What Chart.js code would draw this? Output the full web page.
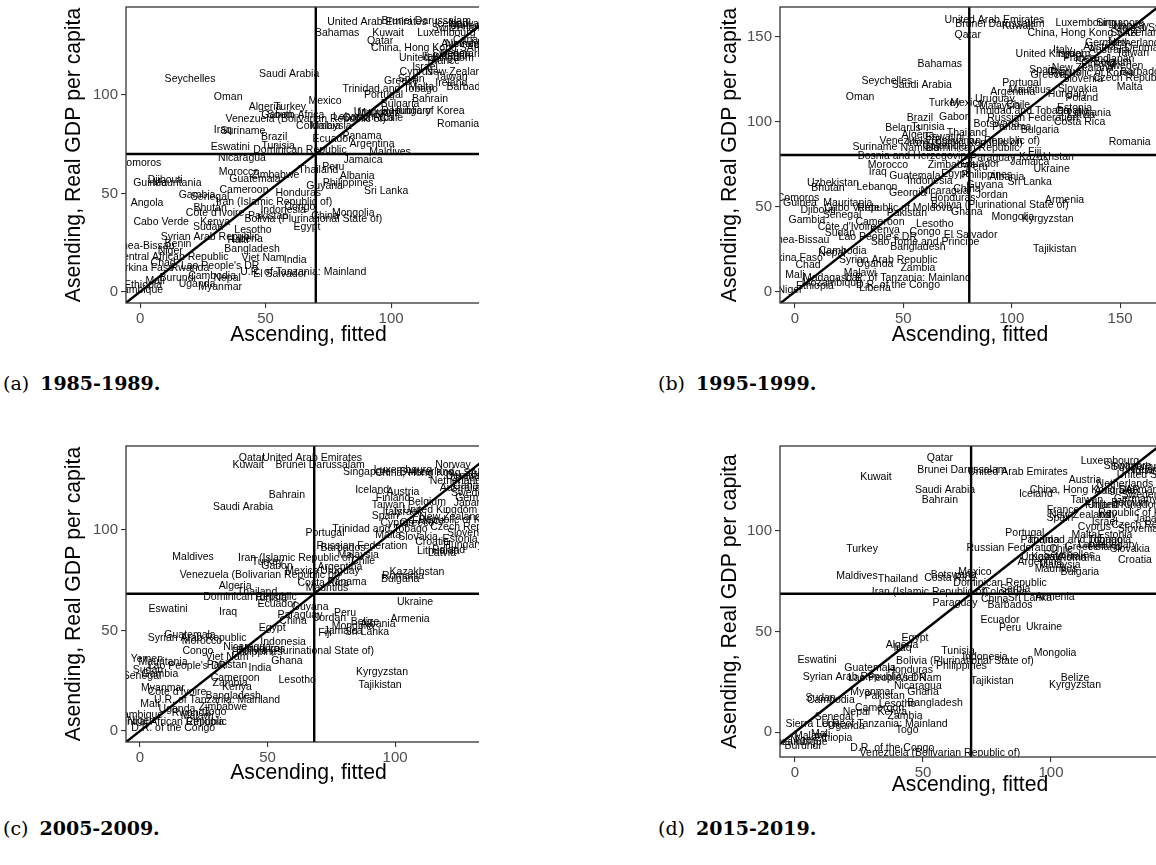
<!DOCTYPE html>
<html>
<head>
<meta charset="utf-8">
<script src="https://cdn.jsdelivr.net/npm/chart.js@4.4.1/dist/chart.umd.min.js"></script>
<style>
body { margin: 0; background: #fff; width: 1156px; height: 865px; overflow: hidden; position: relative; }
.panel { position: absolute; overflow: hidden; }
.panel canvas { position: absolute; left: 0; top: 0; }
.cap { position: absolute; font-family: "DejaVu Serif", serif; font-size: 19px; color: #000; white-space: nowrap; }
.cap b { margin-left: 11px; }
</style>
</head>
<body>
<div class="panel" style="left:61px;top:0px;width:418px;height:348px"><canvas id="ca"></canvas></div>
<div class="panel" style="left:717px;top:0px;width:439px;height:348px"><canvas id="cb"></canvas></div>
<div class="panel" style="left:61px;top:439px;width:418px;height:347px"><canvas id="cc"></canvas></div>
<div class="panel" style="left:717px;top:439px;width:439px;height:359px"><canvas id="cd"></canvas></div>
<div class="cap" style="left:3px;top:372px">(a)<b>1985-1989.</b></div>
<div class="cap" style="left:658px;top:372px">(b)<b>1995-1999.</b></div>
<div class="cap" style="left:3px;top:817px">(c)<b>2005-2009.</b></div>
<div class="cap" style="left:658px;top:817px">(d)<b>2015-2019.</b></div>

<script>
// ---- data ----
const xTitle = "Ascending, fitted";
const yTitle = "Asending, Real GDP per capita";

// 1985-1989
const cutA = 70;
const ticksXA = [0, 50, 100];
const ticksYA = [0, 50, 100];
const namesA = ["Seychelles","Saudi Arabia","Oman","Algeria","Turkey","Mexico","Gabon","South Africa",
  "Venezuela (Bolivarian Republic of)","Iraq","Suriname","Brazil","Colombia","Malaysia","Eswatini","Tunisia",
  "Dominican Republic","Nicaragua","Comoros","Morocco","Guatemala","Zimbabwe","Guinea","Djibouti",
  "Mauritania","Cameroon","Gambia","Senegal","Iran (Islamic Republic of)","Angola","Bhutan","Côte d'Ivoire",
  "Indonesia","Pakistan","Bolivia (Plurinational State of)","Congo","Honduras","Guyana","Philippines","Albania",
  "Sri Lanka","Mongolia","China","Jamaica","Peru","Thailand","Ecuador","Argentina",
  "Panama","Maldives","Egypt","Cabo Verde","Sudan","Kenya","Lesotho","Syrian Arab Republic",
  "Haiti","Liberia","Benin","Guinea-Bissau","Niger","Central African Republic","Bangladesh","Viet Nam",
  "India","Lao People's DR","Chad","Burkina Faso","Rwanda","Mali","Burundi","Uganda",
  "Cambodia","Nepal","Myanmar","Ethiopia","Mozambique","U.R. of Tanzania: Mainland","El Salvador","United Arab Emirates",
  "Brunei Darussalam","Qatar","Bahamas","Kuwait","Luxembourg","China, Hong Kong SAR","United Kingdom","Israel",
  "Cyprus","New Zealand","Taiwan","Greece","Ireland","Barbados","Portugal","Trinidad and Tobago",
  "Bahrain","Bulgaria","Republic of Korea","Uruguay","Romania","Switzerland","United States","Norway",
  "Iceland","Canada","Netherlands","Australia","Denmark","Japan","Sweden","France",
  "Italy","Spain","Malta","Chile","Mauritius","Costa Rica","Hungary","Lebanon"];
const fittedA = [19.9,59.4,35.1,49.8,59.8,73.7,54.6,62,
  66,33,41,53.4,71,76,35.9,55,
  63.7,40.6,0,39.4,45.8,53.8,4,10,
  14.7,41.4,22.7,27.9,53.4,2.8,27.9,29.9,
  57,51,69,63.7,63,73.5,82.9,86.5,
  98,84.9,73.7,88.8,77,71,76.5,92.4,
  88.4,99.6,66.5,8.4,27.1,29.9,45,27.9,
  39,42.6,15.1,0,12,12.7,44.6,49,
  61.8,31.9,9.2,1.2,19.9,6,15,22.7,
  28.7,34.7,31.9,1.2,-2.8,65,55.8,94.4,
  114,95.6,78.5,98.8,122,114,118,113.5,
  110,126,124,104,124,131,97,99.6,
  115.5,103.6,112.7,93,126.7,127,136,130,
  124,132,133,128,128,126,124,121,
  116,108,112,100,95,91,108,85];
const realA = [108,110.7,99,93.9,93.9,97,89.8,89.8,
  87.8,82,81.7,78.7,84.3,84.3,73.6,74,
  72,68,65.5,61,57.4,59.4,55.3,56.9,
  55.3,51.8,49.2,48.2,45.7,45.2,42.6,40.1,
  41.6,38.6,37,43.1,50,53.8,55.3,58.9,
  51.3,40.1,38.6,67,63.5,62,77.7,75.1,
  79.2,71,33,35.5,33.1,35.2,31.5,28,
  26.4,26.9,24.4,23.4,20.8,17.8,21.8,17.3,
  16.2,13.2,14.7,12.2,12.2,5.6,7.1,4.1,
  8.1,7.1,2.5,3.6,1,10.2,9.1,137,
  137.6,127.4,131.5,131.5,131.5,124,118.8,114,
  111.7,111.7,109,107,106,104,100,103,
  98,95.4,91.9,91.4,85.3,134,135,136,
  136,128,126,126,121,120,121,117,
  119,108,104,88,91,88,92,89];

// 1995-1999
const cutB = 80.4;
const ticksXB = [0, 50, 100, 150];
const ticksYB = [0, 50, 100, 150];
const namesB = ["United Arab Emirates","Brunei Darussalam","Kuwait","Qatar","Luxembourg","China, Hong Kong SAR","United States","Singapore",
  "Norway","Switzerland","Netherlands","Austria","Australia","Germany","Denmark","Taiwan",
  "Italy","Israel","United Kingdom","France","Belgium","Finland","Japan","Sweden",
  "Iceland","Spain","Greece","New Zealand","Cyprus","Republic of Korea","Slovenia","Barbados",
  "Czech Republic","Malta","Portugal","Argentina","Mauritius","Slovakia","Hungary","Poland",
  "Uruguay","Malaysia","Mexico","Chile","Trinidad and Tobago","Estonia","Lithuania","Latvia",
  "Croatia","Costa Rica","Russian Federation","Botswana","Panama","Bulgaria","Thailand","Romania",
  "Fiji","Iran (Islamic Republic of)","Dominican Republic","Bahamas","Seychelles","Saudi Arabia","Oman","Turkey",
  "Brazil","Gabon","Belarus","Tunisia","Algeria","Eswatini","Venezuela (Bolivarian Republic of)","Suriname",
  "Namibia","Colombia","Bosnia and Herzegovina","Morocco","Iraq","Guatemala","Indonesia","Zimbabwe",
  "Egypt","Uzbekistan","Bhutan","Lebanon","Georgia","Nicaragua","Honduras","Comoros",
  "Guinea","Mauritania","Djibouti","Cabo Verde","Republic of Moldova","Bolivia (Plurinational State of)","Senegal","Pakistan",
  "Ghana","Gambia","Cameroon","Lesotho","Côte d'Ivoire","Kenya","Congo","Sudan",
  "Lao People's DR","El Salvador","Sao Tome and Principe","Guinea-Bissau","Bangladesh","Nepal","Cambodia","Syrian Arab Republic",
  "Burkina Faso","Chad","Uganda","Zambia","Mali","Madagascar","U.R. of Tanzania: Mainland","Mozambique",
  "D.R. of the Congo","Ethiopia","Liberia","Niger","Malawi","Jamaica","Kazakhstan","Paraguay",
  "Ecuador","Ukraine","Peru","Philippines","Albania","Sri Lanka","Guyana","China",
  "Jordan","Armenia","Mongolia","Kyrgyzstan","Tajikistan"];
const fittedB = [92,94.5,102.8,79.7,133.6,132.7,162,150,
  155,158,157.6,140.5,145,143.8,162,155.8,
  123.5,127,119,131.3,146.5,140,150,152,
  137,114.3,116.6,132.7,124,137.3,132.7,160.4,
  154.4,154.4,104.6,100.5,108.3,130.4,125.8,132.3,
  92.2,94.5,79.3,103,104.6,129,136,132,
  128,131.3,109.7,93,100,113,79.3,154.4,
  110.6,78.3,82,66.8,42.4,58.5,30,69,
  57.6,73.7,49.8,61.3,56.7,69,76,36.9,
  57.6,69,55.3,42.9,38.2,55.3,62.2,72.4,
  73.7,17.5,15.2,37.8,52,69,72.8,1.4,
  2.3,24.4,10.6,26.3,50.7,94.5,21.7,51.6,
  79.3,5.5,39.2,64.5,24,41.5,60,20.7,
  38.2,81,60,0,56.7,17,22,43,
  -1.4,6,36.9,56.7,0,17,52,17,
  47.5,9.2,36.9,-2.3,30,108.3,116,91.2,
  85.3,118.4,83.9,88.5,97.7,108.3,87.6,79.3,
  90.8,124.4,100.5,116.6,119.8];
const realB = [160,157.6,156.5,151,158,152.4,155,158,
  156,152,146.5,144,142,146.5,143.5,140.6,
  142.4,139.5,140,137.6,135.3,134,137,133,
  137,130.6,127.6,131.8,129,128.8,125.3,129.4,
  125.9,120.6,123,117.6,118.8,119.4,116.5,114,
  113.5,109.4,111,110,106,108,105,104,
  106,100,102,98.8,97,95.3,93.5,88.2,
  82.4,87.6,84.5,134,124,121.8,114.7,111,
  102.4,103,96.5,97,92.4,91,88.8,85.3,
  84.7,85.9,80,74.7,70.6,68.2,65.3,74.7,
  69.4,64.1,61.2,61.8,58.2,59.4,55.3,55.3,
  52.4,52.4,48.2,49.4,49.4,51.2,45.3,46.5,
  47,42.4,41.2,40,38.2,36.5,35.3,34.7,
  32.4,33,29.4,30.6,26.5,22.9,24,18.8,
  20,15.9,16.5,14.1,10,8.2,8.2,5.3,
  4.1,3.5,2.4,1.2,11,76.5,79.4,78.8,
  75.3,72.4,73.5,68.8,67.6,64.7,62.9,60.6,
  57,54.1,44.1,42.9,25.3];

// 2005-2009
const cutC = 68.3;
const ticksXC = [0, 50, 100];
const ticksYC = [0, 50, 100];
const namesC = ["Qatar","Kuwait","United Arab Emirates","Brunei Darussalam","Bahrain","Saudi Arabia","Maldives","Iran (Islamic Republic of)",
  "Turkey","Gabon","Mexico","Venezuela (Bolivarian Republic of)","Algeria","Thailand","Dominican Republic","Portugal",
  "Trinidad and Tobago","Malta","Iceland","Austria","Finland","Belgium","Taiwan","United Kingdom",
  "Japan","Italy","Spain","Israel","New Zealand","Cyprus","Greece","France",
  "Republic of Korea","Czech Republic","Slovenia","Slovakia","Estonia","Croatia","Hungary","Poland",
  "Lithuania","Latvia","Russian Federation","Barbados","Malaysia","Chile","Argentina","Uruguay",
  "Kazakhstan","Romania","Bulgaria","Panama","Costa Rica","Mauritius","Norway","Singapore",
  "Luxembourg","China, Hong Kong SAR","Switzerland","Netherlands","Denmark","Sweden","Germany","Australia",
  "United States","Canada","Ireland","Eswatini","Iraq","Tunisia","Ecuador","Paraguay",
  "Guyana","China","Egypt","Syrian Arab Republic","Guatemala","Morocco","Indonesia","Nicaragua",
  "Philippines","Honduras","Bolivia (Plurinational State of)","Congo","Viet Nam","Pakistan","Lao People's DR","Mauritania",
  "Yemen","Gambia","Sudan","Senegal","Ghana","India","Cameroon","Zambia",
  "Kenya","Lesotho","Myanmar","Côte d'Ivoire","Bangladesh","U.R. of Tanzania: Mainland","Mali","Zimbabwe",
  "Togo","Uganda","Rwanda","Mozambique","Malawi","Niger","Central African Republic","Ethiopia",
  "D.R. of the Congo","Ukraine","Peru","Jordan","Belize","Armenia","Albania","Mongolia",
  "Sri Lanka","Jamaica","Fiji","Kyrgyzstan","Tajikistan"];
const fittedC = [43.9,42.4,67.5,70.6,57.6,40.4,20.8,61.2,
  50,53.7,63.5,47,37.3,45.9,43.1,72.5,
  94.1,97.3,91,103.1,99.2,112.5,97.3,117.6,
  128.6,98.8,96.1,104.7,121.6,100.8,108.6,113,
  125.5,128.2,128.2,109,125.5,114.5,126.7,121,
  116.9,118.4,87,79.6,85.5,87.5,78.4,78.4,
  108.6,103.1,102,81.2,71.8,73.3,122.7,89,
  103.1,113.7,112.5,124.7,128.2,129.4,132,125.5,
  134,130,136,11,34.5,51,53.7,62.7,
  66.7,60,51.8,22.4,19.6,24.3,56.1,42,
  45.9,48,64.7,22.7,34.1,34.1,18.4,9,
  2.7,7.8,3.1,0.8,57.6,47,37.3,35.3,
  38,61.6,9,14.5,36.5,30.2,3.9,32.5,
  29.4,14.5,20,-2.7,22.4,0,11.8,25.5,
  13,107.8,80.4,74.5,88.2,105.9,93.3,83.5,
  89,79.6,72.5,94.9,94.1];
const realC = [135.6,132.2,135.6,132.2,117.3,111.4,86.6,86.1,
  84,82.2,79.7,77.7,72.3,69.3,66.7,98.5,
  100.5,97.5,119.8,118.8,115.8,113.9,112.4,109.9,
  113.4,108.9,106.9,108.9,106.4,103.5,103.5,104.5,
  105,101.5,98.5,96.5,95.5,94.1,92.6,90,
  89.6,88.6,92.1,91.1,87.6,84.7,81.7,79.7,
  79.2,77.2,75.7,74.3,73.8,71.3,132.2,128.7,
  129.7,128.2,128.7,124.3,126.7,118.3,115.8,120.8,
  126,122,128,60.4,59.4,66.3,62.9,57.9,
  61.4,54.5,51,46,47.5,44.6,44,41.6,
  39.1,40.5,39.6,39.6,36.6,32.7,32.2,34.2,
  35.6,28.2,30.2,27.2,34.7,31.2,26.2,23.8,
  21.8,25.2,21.3,19.3,17.3,15.3,13.4,11.9,
  9.4,10.9,9,7.9,7.4,5,4.5,4.5,
  1.5,63.9,58.9,56.4,54,55.9,53,52,
  49,49.5,48.5,29.2,22.8];

// 2015-2019
const cutD = 68.8;
const ticksXD = [0, 50, 100];
const ticksYD = [0, 50, 100];
const namesD = ["Qatar","Brunei Darussalam","United Arab Emirates","Kuwait","Luxembourg","Singapore","Switzerland","Ireland",
  "United States","Norway","Austria","Netherlands","Denmark","Saudi Arabia","Bahrain","Iceland",
  "China, Hong Kong SAR","Taiwan","United Kingdom","Germany","Sweden","Belgium","Finland","Australia",
  "France","New Zealand","Spain","Republic of Korea","Japan","Israel","Cyprus","Italy",
  "Czech Republic","Slovenia","Portugal","Panama","Trinidad and Tobago","Malta","Estonia","Lithuania",
  "Hungary","Poland","Slovakia","Turkey","Russian Federation","Chile","Latvia","Greece",
  "Romania","Croatia","Seychelles","Kazakhstan","Malaysia","Argentina","Uruguay","Mauritius",
  "Bulgaria","Maldives","Mexico","Thailand","Costa Rica","Botswana","Dominican Republic","Iran (Islamic Republic of)",
  "Colombia","Serbia","China","Paraguay","Barbados","Sri Lanka","Armenia","Ecuador",
  "Peru","Ukraine","Egypt","Algeria","Iraq","Tunisia","Mongolia","Indonesia",
  "Bolivia (Plurinational State of)","Philippines","Eswatini","Guatemala","Syrian Arab Republic","Honduras","Lao People's DR","Viet Nam",
  "Belize","Kyrgyzstan","Nicaragua","Ghana","Myanmar","Pakistan","Bangladesh","Cambodia",
  "Sudan","Senegal","Cameroon","Zambia","Kenya","Tajikistan","Togo","Mali",
  "Niger","Sierra Leone","Malawi","Burundi","Mozambique","D.R. of the Congo","Venezuela (Bolivarian Republic of)","Ethiopia",
  "Uganda","U.R. of Tanzania: Mainland","Nepal","Lesotho"];
const fittedD = [56.6,65.2,87.1,31.6,123,130,134,138,
  138,137,113.3,128.9,134.8,58.6,56.6,94.1,
  113.3,114,128.9,133,135,131,120,125,
  104.7,111.3,103.5,134.8,138,121,117,122,
  138,134,89.8,95.7,109.4,113,125,123,
  126,121,130.9,26.2,84.8,104,116,112,
  111.3,132.8,107,103,103.5,95.7,96,102,
  111.3,24.2,70.3,40.2,60.5,62,80.1,52.7,
  82,86,78,62.5,84,91.8,101.6,80.1,
  84,97.3,46.9,41.8,42,63.7,101.6,74.2,
  66.4,65,8.6,29.3,22.3,45,36,48.8,
  109.4,109.4,48,50,30.1,35,54.7,14,
  10,15.2,33,43,38,77,43.8,10,
  3,8,6,3,1,38,56.6,15,
  20,35,24,40];
const realD = [136.3,130.3,129.4,126.9,134.8,132.3,132,130.5,
  127.9,130,125.4,123.4,120.4,120.4,115.4,118.4,
  120.4,115.4,112.9,116,118,114,113,120,
  110.4,108,106.5,109,106,104.5,102,108,
  103,101,99,95.5,95.5,98,98,95.5,
  93,92,91,91,91.5,91,93,92,
  86.6,85.6,88,87,83.1,84.6,87,81,
  79.6,77.6,79.6,76.1,76.6,78,74.1,69.7,
  69.7,71,66,64.2,63,66.7,67.2,55.7,
  51.7,52.2,46.8,43.3,42,40.3,39.3,37.3,
  35.3,33,35.8,31.8,27.4,31,27,26.9,
  26.9,23.4,23,20,19.9,18,14.4,16,
  17,7.5,12,8,10,25.4,1,-1,
  -4,4,-2,-7,-5,-8,-10.5,-3,
  3,4,10,14];

// ---- drawing ----
Chart.defaults.font.family = '"Liberation Sans", Arial, Helvetica, sans-serif';

const countryText = {
  id: 'countryText',
  beforeDatasetsDraw(chart) {
    const ctx = chart.ctx, a = chart.chartArea;
    const ds = chart.data.datasets[3];
    const meta = chart.getDatasetMeta(3);
    ctx.save();
    ctx.beginPath();
    ctx.rect(a.left, a.top, a.right - a.left, a.bottom - a.top);
    ctx.clip();
    ctx.font = '10.5px "Liberation Sans", Arial, sans-serif';
    ctx.fillStyle = '#000';
    ctx.textAlign = 'center';
    ctx.textBaseline = 'middle';
    meta.data.forEach((pt, i) => ctx.fillText(ds.names[i], pt.x, pt.y));
    ctx.restore();
  }
};

const frame = {
  id: 'frame',
  afterDatasetsDraw(chart) {
    const ctx = chart.ctx, a = chart.chartArea;
    ctx.save();
    ctx.strokeStyle = '#333';
    ctx.lineWidth = 1.3;
    ctx.strokeRect(a.left, a.top, a.right - a.left, a.bottom - a.top);
    ctx.restore();
  }
};

function refLine(points) {
  return { data: points, showLine: true, borderColor: '#000', borderWidth: 2.4, pointRadius: 0, fill: false };
}

function makePanel(p) {
  const canvas = document.getElementById(p.id);
  canvas.width = p.w;
  canvas.height = p.h;
  const pts = p.names.map((n, i) => ({ x: p.x[i], y: p.y[i] }));
  return new Chart(canvas, {
    type: 'scatter',
    data: {
      datasets: [
        refLine([{ x: -50, y: -50 }, { x: 300, y: 300 }]),
        refLine([{ x: p.cut, y: -50 }, { x: p.cut, y: 300 }]),
        refLine([{ x: -50, y: p.cut }, { x: 300, y: p.cut }]),
        { data: pts, names: p.names, pointRadius: 0, pointHoverRadius: 0 }
      ]
    },
    options: {
      responsive: false,
      animation: false,
      events: [],
      layout: { padding: { top: 7, left: 0, right: 0, bottom: 0 } },
      plugins: { legend: { display: false }, tooltip: { enabled: false } },
      scales: {
        x: {
          type: 'linear', min: p.xMin, max: p.xMax,
          afterBuildTicks: s => { s.ticks = p.ticksX.map(v => ({ value: v })); },
          afterFit: s => { s.height = p.xh; s.paddingLeft = 0; s.paddingRight = 0; },
          grid: { drawOnChartArea: false, tickLength: 5, color: '#333', lineWidth: 1.1 },
          border: { display: false },
          ticks: { color: '#4d4d4d', font: { size: 15 }, padding: 2, maxRotation: 0 },
          title: { display: true, text: xTitle, color: '#000', font: { size: 21.2 }, padding: 0 }
        },
        y: {
          type: 'linear', min: p.yMin, max: p.yMax,
          afterBuildTicks: s => { s.ticks = p.ticksY.map(v => ({ value: v })); },
          afterFit: s => { s.width = p.yw; s.paddingTop = 0; s.paddingBottom = 0; },
          grid: { drawOnChartArea: false, tickLength: 5, color: '#333', lineWidth: 1.1 },
          border: { display: false },
          ticks: { color: '#4d4d4d', font: { size: 15 }, padding: 3 },
          title: { display: true, text: yTitle, color: '#000', font: { size: 21.2 }, padding: 0 }
        }
      }
    },
    plugins: [countryText, frame]
  });
}

makePanel({ id: 'ca', names: namesA, x: fittedA, y: realA, cut: cutA, ticksX: ticksXA, ticksY: ticksYA,
  xMin: -5.6, xMax: 139.8, yMin: -5.7, yMax: 144.7, w: 430, h: 348, yw: 65, xh: 45 });
makePanel({ id: 'cb', names: namesB, x: fittedB, y: realB, cut: cutB, ticksX: ticksXB, ticksY: ticksYB,
  xMin: -6.92, xMax: 168.4, yMin: -6.65, yMax: 167.5, w: 443, h: 348, yw: 63, xh: 45 });
makePanel({ id: 'cc', names: namesC, x: fittedC, y: realC, cut: cutC, ticksX: ticksXC, ticksY: ticksYC,
  xMin: -5.49, xMax: 137.6, yMin: -5.47, yMax: 141.8, w: 430, h: 347, yw: 65, xh: 44 });
makePanel({ id: 'cd', names: namesD, x: fittedD, y: realD, cut: cutD, ticksX: ticksXD, ticksY: ticksYD,
  xMin: -5.86, xMax: 142.6, yMin: -12.4, yMax: 142.3, w: 443, h: 359, yw: 63, xh: 41 });
</script>
</body>
</html>
